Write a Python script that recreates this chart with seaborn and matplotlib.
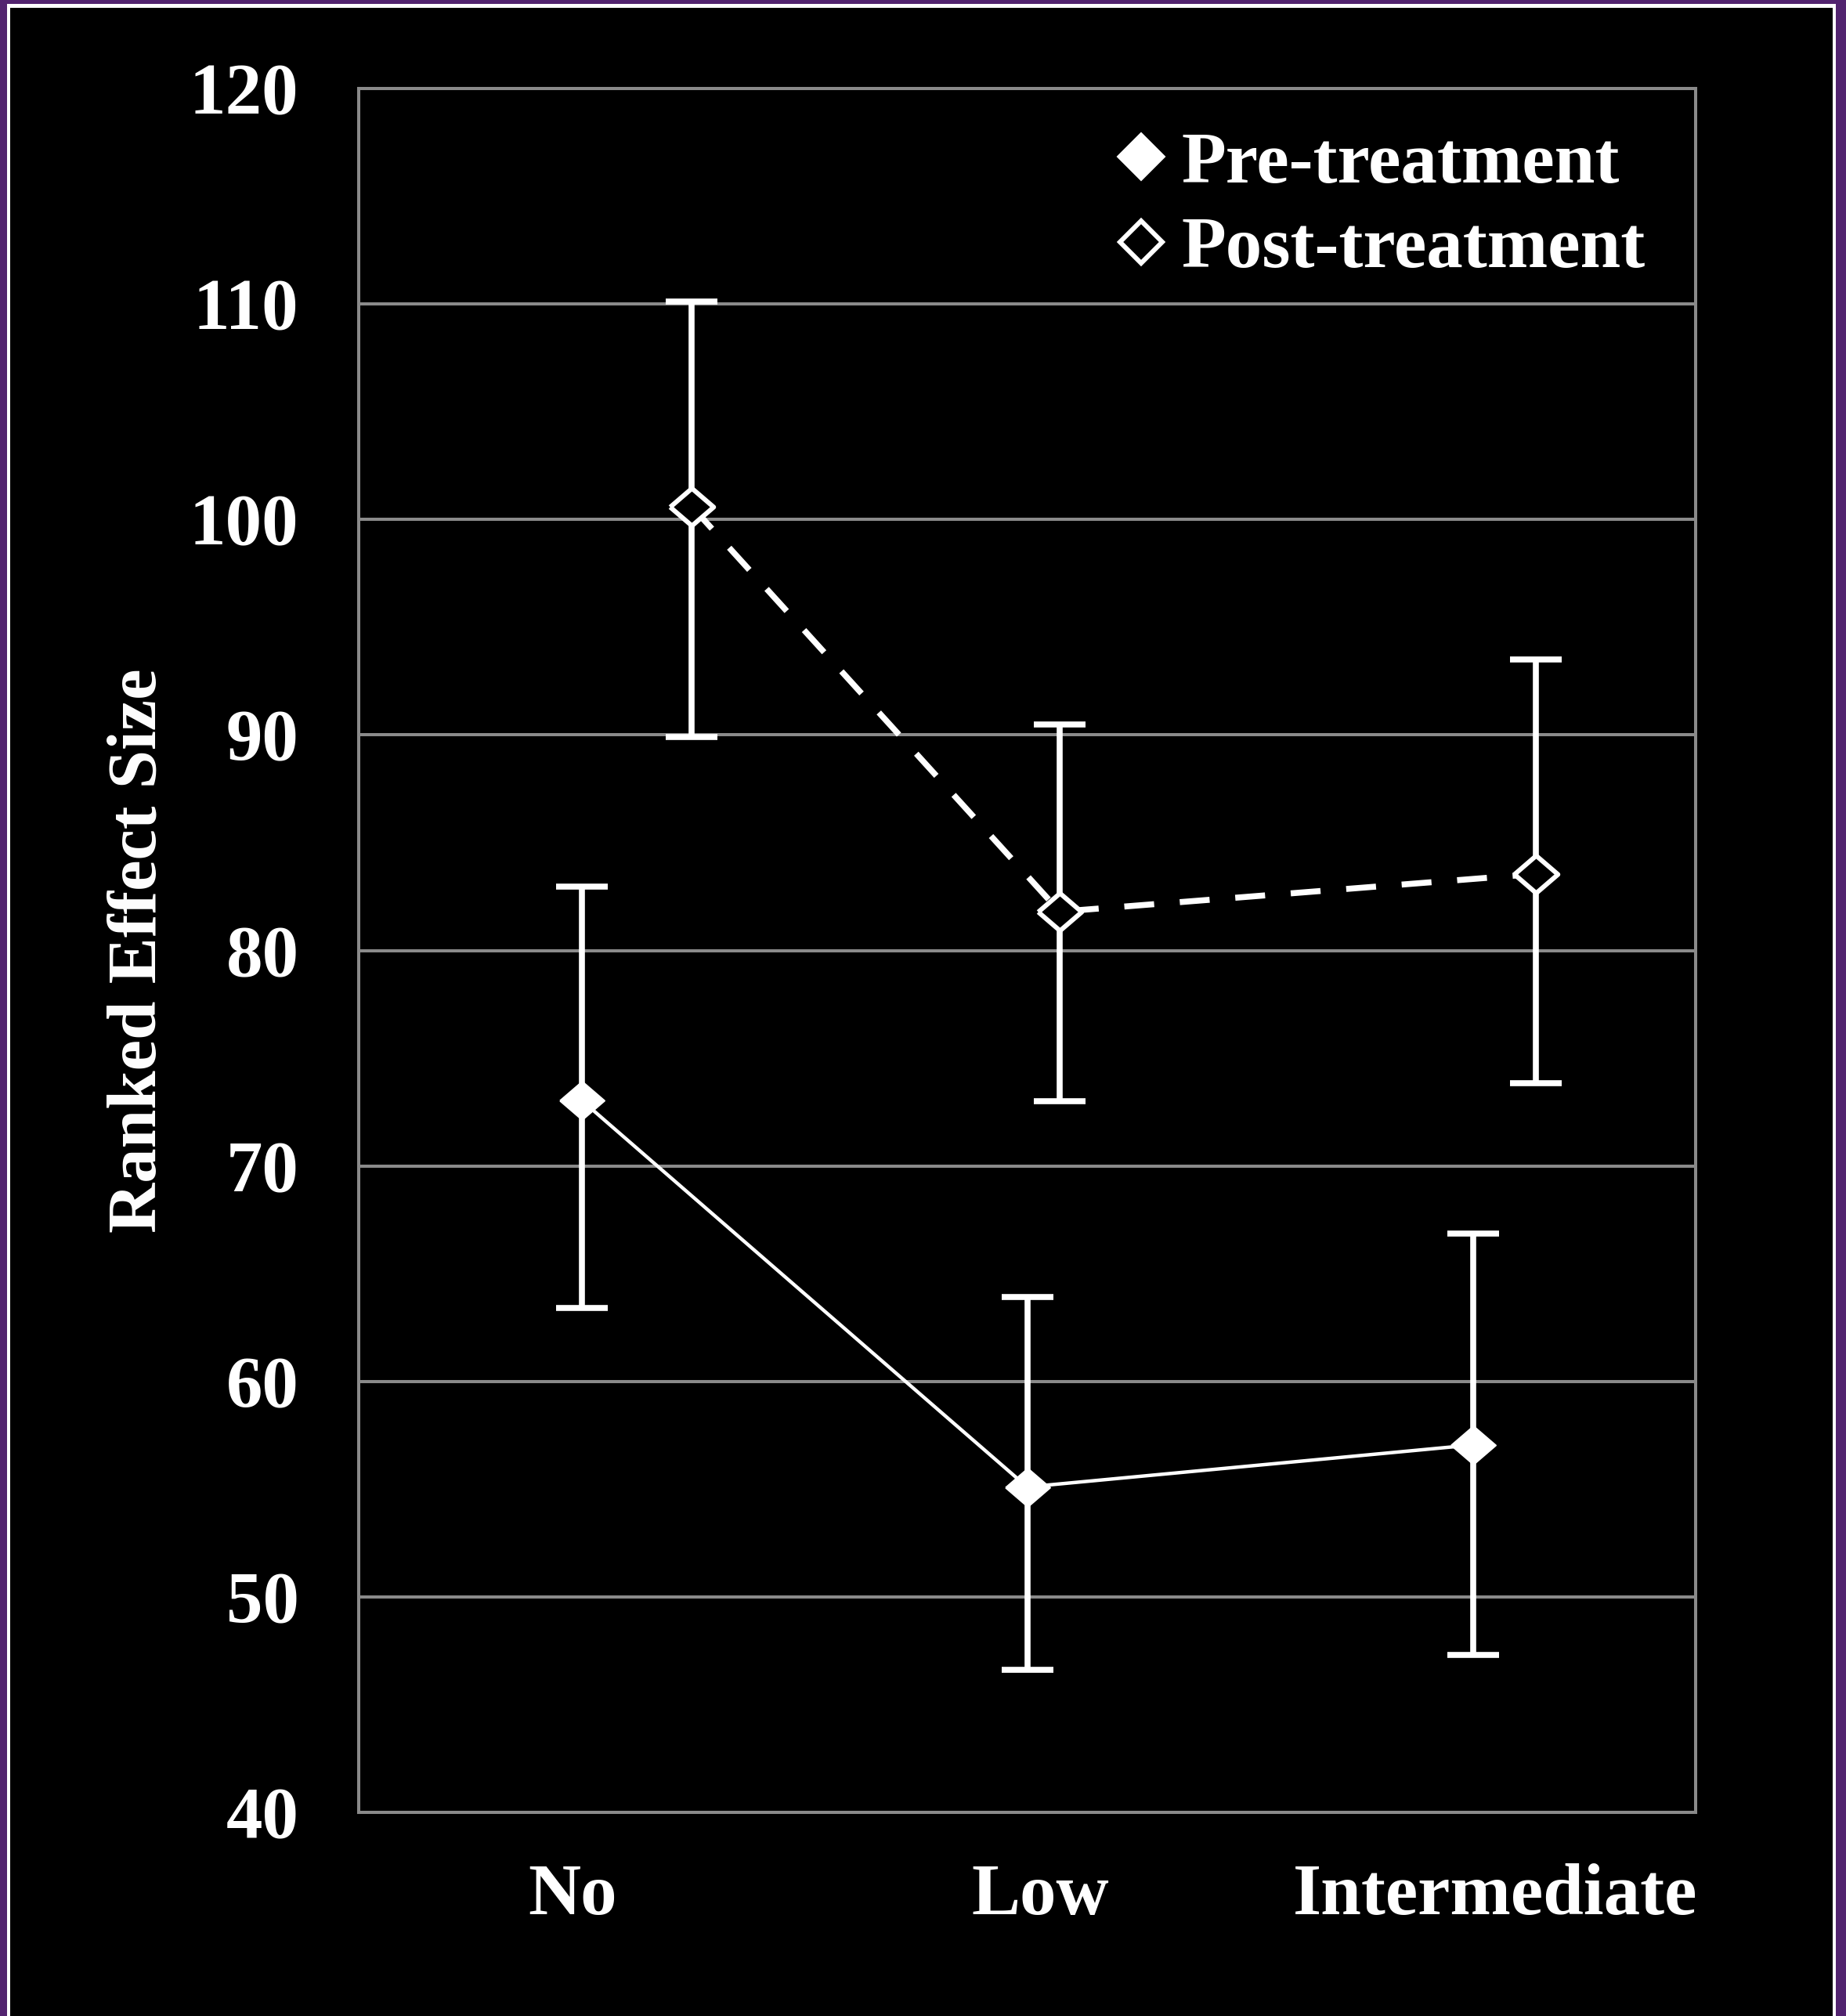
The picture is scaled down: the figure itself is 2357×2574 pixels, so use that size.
import matplotlib
matplotlib.use("Agg")
import matplotlib.pyplot as plt
from matplotlib.patches import Rectangle
from matplotlib.lines import Line2D
import seaborn as sns
import pandas as pd
import numpy as np

# ---- data ----
categories = ["No", "Low", "Intermediate"]
series_names = ["Pre-treatment", "Post-treatment"]

pre_mean = [73.05, 55.1, 57.05]
pre_low = [63.4, 46.6, 47.3]
pre_high = [82.95, 63.9, 66.85]

post_mean = [100.6, 81.8, 83.55]
post_low = [89.9, 73.0, 73.85]
post_high = [110.1, 90.5, 93.5]

# horizontal offsets of the post-treatment points within each category
post_offset = [0.2475, 0.073, 0.142]

cat_idx = np.arange(len(categories), dtype=float)
pre_df = pd.DataFrame({"x": cat_idx, "y": pre_mean, "lo": pre_low, "hi": pre_high})
post_df = pd.DataFrame({"x": cat_idx + np.array(post_offset), "y": post_mean,
                        "lo": post_low, "hi": post_high})

sns.set_theme(style="dark")
plt.rcParams["font.family"] = ["Liberation Serif", "DejaVu Serif"]
plt.rcParams["font.weight"] = "bold"

W, H, DPI = 2357, 2574, 100
fig = plt.figure(figsize=(W / DPI, H / DPI), dpi=DPI, facecolor="#52236f")

# white frame line and black slide background
fig.patches.append(Rectangle((9 / W, -0.01), (2344 - 9) / W, 1.01 - 5 / H,
                             transform=fig.transFigure, facecolor="white",
                             edgecolor="none", zorder=-3))
fig.patches.append(Rectangle((13 / W, -0.01), (2340 - 13) / W, 1.01 - 10 / H,
                             transform=fig.transFigure, facecolor="black",
                             edgecolor="none", zorder=-2))

ax = fig.add_axes([458 / W, 1 - 2314 / H, (2165 - 458) / W, (2314 - 113) / H])
ax.set_facecolor("black")

grid_col = "#8a8a8a"
ax.set_ylim(40, 120)
ax.set_xlim(-0.5, 2.5)
ax.set_yticks(np.arange(40, 121, 10))
ax.yaxis.grid(True, color=grid_col, linewidth=2.9)
ax.xaxis.grid(False)
ax.set_axisbelow(True)
for s in ax.spines.values():
    s.set_visible(True)
    s.set_color(grid_col)
    s.set_linewidth(2.9)

# slightly wide diamond used for the data points
diamond = [(-1.0, 0.0), (0.0, 0.86), (1.0, 0.0), (0.0, -0.86), (-1.0, 0.0)]

# error bars
eb_kw = dict(fmt="none", ecolor="white", elinewidth=5.5, capsize=24, capthick=5.5, zorder=3)
for df in (pre_df, post_df):
    yerr = np.vstack([df["y"] - df["lo"], df["hi"] - df["y"]])
    ax.errorbar(df["x"], df["y"], yerr=yerr, **eb_kw)

# series lines with diamond markers
sns.lineplot(data=pre_df, x="x", y="y", ax=ax, color="white", linewidth=3.2,
             marker=diamond, markersize=41, markerfacecolor="white",
             markeredgecolor="white", markeredgewidth=1.5, zorder=4)
sns.lineplot(data=post_df, x="x", y="y", ax=ax, color="white", linewidth=5.5,
             marker=diamond, markersize=40, markerfacecolor="black",
             markeredgecolor="white", markeredgewidth=4.3, zorder=4)
ax.lines[-1].set_dashes([5.0, 4.3])

ax.set_xlabel("")
ax.set_ylabel("Ranked Effect Size", color="white", fontsize=64, fontweight="bold")
ax.yaxis.set_label_coords(-0.141, 0.5)
ax.set_xticks([-0.02, 1.03, 2.05])
ax.set_xticklabels(categories)
ax.tick_params(axis="both", length=0, colors="white", labelsize=67)
ax.tick_params(axis="x", pad=47)
ax.tick_params(axis="y", pad=55)
for lab in ax.get_xticklabels() + ax.get_yticklabels():
    lab.set_fontweight("bold")

handles = [
    Line2D([], [], linestyle="none", marker="D", markersize=31,
           markerfacecolor="white", markeredgecolor="white", markeredgewidth=1.5),
    Line2D([], [], linestyle="none", marker="D", markersize=27,
           markerfacecolor="black", markeredgecolor="white", markeredgewidth=4.3),
]
leg = ax.legend(handles, series_names, loc="upper right",
                bbox_to_anchor=(0.984, 0.992), frameon=False, fontsize=67,
                handlelength=0.6, handletextpad=0.25, labelspacing=0.25,
                borderaxespad=0)
for t in leg.get_texts():
    t.set_color("white")
    t.set_fontweight("bold")

fig.savefig("out.png", dpi=DPI, facecolor=fig.get_facecolor())
